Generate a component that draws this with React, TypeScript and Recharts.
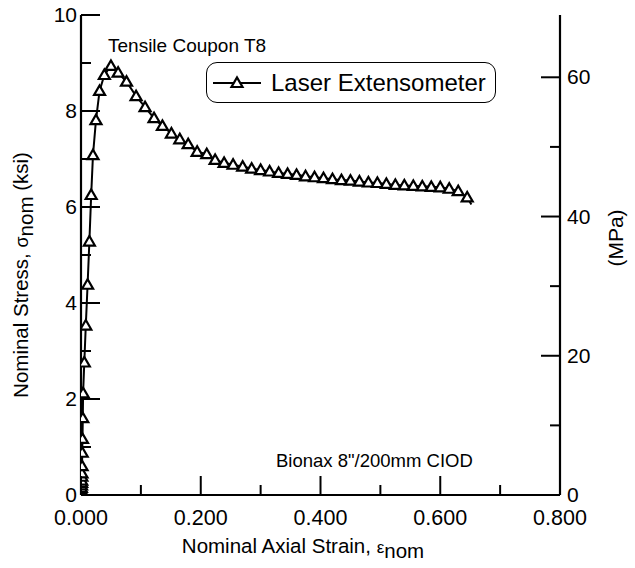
import { LineChart, Line, XAxis, YAxis, Legend, Label } from "recharts";

// nominal axial strain (-) and nominal stress (ksi)
const strain = [
  0, 0.0002, 0.0004, 0.0006, 0.0008, 0.001, 0.0012, 0.0014, 0.0016, 0.0018,
  0.002, 0.0025, 0.003, 0.0035, 0.0055, 0.008, 0.011, 0.014, 0.017, 0.02,
  0.025, 0.031, 0.039, 0.05, 0.062, 0.076, 0.092, 0.107, 0.122, 0.136,
  0.151, 0.165, 0.179, 0.194, 0.21, 0.224, 0.239, 0.254, 0.27, 0.285,
  0.3, 0.315, 0.33, 0.345, 0.36, 0.375, 0.39, 0.405, 0.42, 0.435,
  0.45, 0.465, 0.48, 0.495, 0.51, 0.525, 0.54, 0.555, 0.57, 0.585,
  0.6, 0.615, 0.63, 0.645, 0.652,
];
const stress = [
  0, 0.05, 0.1, 0.15, 0.2, 0.25, 0.3, 0.38, 0.45, 0.6,
  0.88, 1.17, 1.6, 2.12, 2.76, 3.53, 4.38, 5.28, 6.25, 7.08,
  7.81, 8.42, 8.75, 8.94, 8.8, 8.61, 8.31, 8.08, 7.85, 7.69,
  7.53, 7.41, 7.31, 7.15, 7.1, 6.98, 6.92, 6.88, 6.84, 6.8,
  6.77, 6.74, 6.71, 6.69, 6.67, 6.64, 6.62, 6.6, 6.58, 6.56,
  6.55, 6.53, 6.51, 6.5, 6.48, 6.46, 6.45, 6.44, 6.43, 6.42,
  6.41, 6.38, 6.33, 6.2, 6.05,
];

const strainTicks = [0, 0.1, 0.2, 0.3, 0.4, 0.5, 0.6, 0.7, 0.8];
const topTicks = [0.8 / 6, 1.6 / 6, 2.4 / 6, 3.2 / 6, 4.0 / 6];
const ksiTicks = [0, 1, 2, 3, 4, 5, 6, 7, 8, 9, 10];
const mpaTicks = [0, 10, 20, 30, 40, 50, 60];
const KSI_TO_MPA = 6.894757;

const data = strain.map((s, i) => ({ strain: s, stress: stress[i] }));

const FONT = "'Liberation Sans', Arial, sans-serif";

function BottomTick({ x, y, payload }: any) {
  const v = payload.value;
  const major = Math.round(v * 10) % 2 === 0;
  return (
    <g>
      <line x1={x} x2={x} y1={y} y2={y - (major ? 19 : 10)} stroke="#000" strokeWidth={2} />
      {major && (
        <text x={x} y={y + 30} textAnchor="middle" fontSize={21.5} fontFamily={FONT} fill="#000">
          {v.toFixed(3)}
        </text>
      )}
    </g>
  );
}

function TopTick({ x, y }: any) {
  return <line x1={x} x2={x} y1={y} y2={y + 10} stroke="#000" strokeWidth={2} />;
}

function LeftTick({ x, y, payload }: any) {
  const v = payload.value;
  const major = v % 2 === 0;
  return (
    <g>
      <line x1={x} x2={x + (major ? 19 : 10)} y1={y} y2={y} stroke="#000" strokeWidth={2} />
      {major && (
        <text x={x - 4} y={y + 7} textAnchor="end" fontSize={21} fontFamily={FONT} fill="#000">
          {v}
        </text>
      )}
    </g>
  );
}

function RightTick({ x, y, payload }: any) {
  const v = payload.value;
  const major = v % 20 === 0;
  return (
    <g>
      <line x1={x} x2={x - (major ? 19 : 10)} y1={y} y2={y} stroke="#000" strokeWidth={2} />
      {major && (
        <text x={x + 7} y={y + 7} textAnchor="start" fontSize={21} fontFamily={FONT} fill="#000">
          {v}
        </text>
      )}
    </g>
  );
}

function Triangle({ cx, cy, index }: any) {
  if (index === data.length - 1) return <g key={index} />;
  return (
    <polygon
      key={index}
      points={`${cx - 5.5},${cy + 4} ${cx + 5.5},${cy + 4} ${cx},${cy - 5.5}`}
      fill="#fff"
      stroke="#000"
      strokeWidth={2.2}
    />
  );
}

function LegendBox() {
  return (
    <div
      style={{
        width: 288,
        height: 39,
        border: "1.5px solid #000",
        borderRadius: 11,
        display: "flex",
        alignItems: "center",
        fontFamily: FONT,
        fontSize: 24,
        background: "#fff",
      }}
    >
      <svg width={58} height={20}>
        <line x1={6} x2={54} y1={10} y2={10} stroke="#000" strokeWidth={2} />
        <polygon points="24.5,14 35.5,14 30,4.5" fill="#fff" stroke="#000" strokeWidth={2.2} />
      </svg>
      <span style={{ marginLeft: 6 }}>Laser Extensometer</span>
    </div>
  );
}

export default function App() {
  return (
    <div style={{ position: "fixed", left: 0, top: 0, background: "#fff" }}>
      <LineChart width={635} height={568} data={data} margin={{ top: 15, right: 0, bottom: 0, left: 0 }}>
        <XAxis
          xAxisId="b"
          dataKey="strain"
          type="number"
          domain={[0, 0.8]}
          ticks={strainTicks}
          interval={0}
          height={73}
          tickSize={0}
          tickMargin={0}
          tickLine={false}
          tick={BottomTick}
          axisLine={{ stroke: "#000", strokeWidth: 2.2 }}
          allowDataOverflow
        >
          <Label
            content={() => (
              <text x={303} y={553} textAnchor="middle" fontSize={20.5} fontFamily={FONT} fill="#000">
                Nominal Axial Strain, <tspan fontSize={17}>ε</tspan>
                <tspan dy={5}>nom</tspan>
              </text>
            )}
          />
        </XAxis>
        <XAxis
          xAxisId="t"
          orientation="top"
          dataKey="strain"
          type="number"
          domain={[0, 0.8]}
          ticks={topTicks}
          interval={0}
          height={0}
          tickSize={0}
          tickMargin={0}
          tickLine={false}
          tick={TopTick}
          axisLine={{ stroke: "#000", strokeWidth: 2.2 }}
          allowDataOverflow
        />
        <YAxis
          yAxisId="l"
          type="number"
          domain={[0, 10]}
          ticks={ksiTicks}
          interval={0}
          width={81}
          tickSize={0}
          tickMargin={0}
          tickLine={false}
          tick={LeftTick}
          axisLine={{ stroke: "#000", strokeWidth: 2.2 }}
          allowDataOverflow
        >
          <Label
            content={() => (
              <text
                x={28}
                y={275}
                transform="rotate(-90 28 275)"
                textAnchor="middle"
                fontSize={20.5}
                fontFamily={FONT}
                fill="#000"
              >
                Nominal Stress, <tspan fontSize={18}>σ</tspan>
                <tspan dy={5}>nom</tspan>
                <tspan dy={-5}> (ksi)</tspan>
              </text>
            )}
          />
          <Label
            content={() => (
              <text x={108} y={52} fontSize={19} fontFamily={FONT} fill="#000">
                Tensile Coupon T8
              </text>
            )}
          />
          <Label
            content={() => (
              <text x={276} y={467} fontSize={18.5} fontFamily={FONT} fill="#000">
                Bionax 8"/200mm CIOD
              </text>
            )}
          />
        </YAxis>
        <YAxis
          yAxisId="r"
          orientation="right"
          type="number"
          domain={[0, 10 * KSI_TO_MPA]}
          ticks={mpaTicks}
          interval={0}
          width={75}
          tickSize={0}
          tickMargin={0}
          tickLine={false}
          tick={RightTick}
          axisLine={{ stroke: "#000", strokeWidth: 2.2 }}
          allowDataOverflow
        >
          <Label
            content={() => (
              <text
                x={623}
                y={238}
                transform="rotate(-90 623 238)"
                textAnchor="middle"
                fontSize={21}
                fontFamily={FONT}
                fill="#000"
              >
                (MPa)
              </text>
            )}
          />
        </YAxis>
        <Legend
          layout="horizontal"
          verticalAlign="middle"
          content={LegendBox}
          wrapperStyle={{ position: "absolute", left: 206, top: 62, width: "auto" }}
        />
        <Line
          xAxisId="b"
          yAxisId="l"
          dataKey="stress"
          name="Laser Extensometer"
          stroke="#000"
          strokeWidth={2}
          dot={Triangle}
          activeDot={false}
          isAnimationActive={false}
        />
      </LineChart>
    </div>
  );
}
